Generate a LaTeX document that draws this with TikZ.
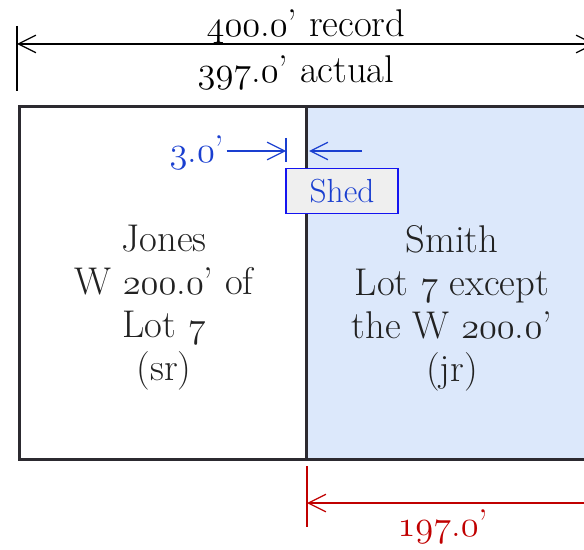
\documentclass[tikz,border=0pt]{standalone}
\usepackage{fontspec}
\usepackage[HTML]{xcolor}
\usetikzlibrary{positioning, arrows.meta}
\definecolor{lotfill}{HTML}{DCE8FB}
\definecolor{framegray}{HTML}{2C2A30}
\definecolor{ink}{HTML}{222222}
\definecolor{dimblue}{HTML}{1A3FD0}
\definecolor{shedblue}{HTML}{1414F0}
\definecolor{shedfill}{HTML}{EFEFEF}
\definecolor{dimred}{HTML}{C00000}
\newcommand{\osf}[1]{{\fontencoding{OML}\fontfamily{cmm}\fontseries{m}\fontshape{it}\selectfont #1}}
\newcommand{\feet}[2]{\osf{#1}.\osf{#2}'}

\begin{document}
\begin{tikzpicture}[x=0.02cm, y=-0.02cm,
  >={Straight Barb[length=10pt, width=10pt]},
  lot/.style={draw=framegray, line width=1.7pt, outer sep=0pt, inner sep=0pt,
    minimum width=5.76cm, minimum height=7.08cm},
  lotlabel/.style={align=center, text=ink, inner sep=0pt,
    font=\fontsize{22}{24.5}\selectfont},
  dimtext/.style={inner sep=0pt, font=\fontsize{22}{24}\selectfont},
  shedbox/.style={draw=shedblue, fill=shedfill, line width=1.1pt, text=dimblue,
    minimum width=2.24cm, minimum height=0.9cm, font=\fontsize{19}{20}\selectfont},
  dimline/.style={line width=0.7pt}]
\useasboundingbox (0,0) rectangle (584,550);
\clip (0,0) rectangle (584,550);
% lots
\node[lot] (jones) at (163,283) {};
\node[lot, fill=lotfill, right=0pt of jones] (smith) {};
\node[lotlabel] (jones text) at (164,308)
  {Jones\\W \feet{200}{0} of\\Lot \osf{7}\\(sr)};
\node[lotlabel] (smith text) at (452,308)
  {Smith\\Lot \osf{7} except\\the W \feet{200}{0}\\(jr)};
% shed
\node[shedbox] (shed) at (342,191) {Shed};
% record and actual width
\coordinate (rec w) at (17,44);
\coordinate (rec e) at (595,44);
\draw[dimline] (17,26) -- (17,91);
\draw[dimline, <->] (rec w) -- (rec e);
\node[dimtext, anchor=base] (record) at (306,37) {\feet{400}{0} record};
\node[dimtext, anchor=base] (actual) at (296,83) {\feet{397}{0} actual};
% shed offset
\node[dimtext, text=dimblue] (offset) at (197,153) {\feet{3}{0}};
\coordinate (off w) at (286,151);
\coordinate (off e) at (309,151);
\coordinate (off tail) at (362,151);
\draw[dimline, dimblue] (286,138) -- (286,162);
\draw[dimline, dimblue, ->] ([xshift=1pt]offset.east |- off w) -- (off w);
\draw[dimline, dimblue, ->] (off tail) -- (off e);
% smith frontage
\coordinate (front w) at (307,503);
\coordinate (front e) at (597,503);
\draw[dimline, dimred] (307,466) -- (307,527);
\draw[dimline, dimred, <-] (front w) -- (front e);
\node[dimtext, text=dimred, anchor=base] (frontage) at (443,536) {\feet{197}{0}};
\end{tikzpicture}
\end{document}
